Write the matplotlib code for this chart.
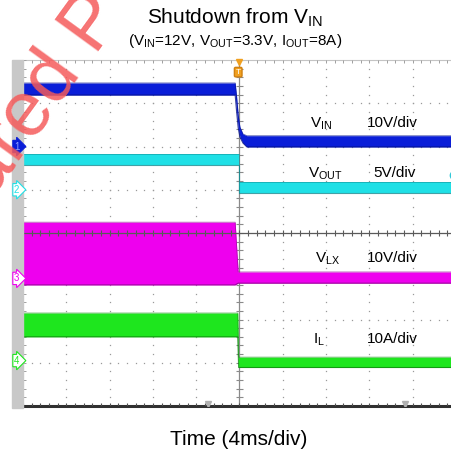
import numpy as np
import matplotlib
matplotlib.use("Agg")
import matplotlib.pyplot as plt
from matplotlib.patches import Rectangle

plt.rcParams["font.family"] = ["Liberation Sans", "DejaVu Sans"]
plt.rcParams["mathtext.fontset"] = "custom"
plt.rcParams["mathtext.rm"] = "Liberation Sans"

W, H = 452, 455
DIV_X, DIV_Y = 43.3, 43.25  # pixels per division

# scope traces, in divisions
# (x: 4ms/div from left edge, y: divisions from bottom, hi/lo = noise band)
VIN_T = [0.0, 4.90, 4.93, 4.97, 5.01, 5.08, 5.17, 9.91]
VIN_HI = [7.47, 7.47, 7.19, 6.73, 6.45, 6.29, 6.25, 6.25]
VIN_LO = [7.19, 7.19, 6.84, 6.43, 6.22, 6.08, 5.99, 5.99]

VOUT_T = [0.0, 4.98, 4.98, 9.91]
VOUT_HI = [5.82, 5.82, 5.18, 5.18]
VOUT_LO = [5.57, 5.57, 4.92, 4.92]

VLX_T = [0.0, 4.90, 4.97, 9.91]
VLX_HI = [4.25, 4.25, 3.10, 3.10]
VLX_LO = [2.80, 2.80, 2.84, 2.84]

IL_T = [0.0, 4.96, 4.98, 9.91]
IL_HI = [2.15, 2.15, 1.13, 1.13]
IL_LO = [1.60, 1.60, 0.89, 0.89]

CH_NAMES = ["1", "2", "3", "4"]
CH_GROUND = [6.0, 5.0, 2.95, 1.05]
CH_COLORS = ["#0a1ed8", "#1fe0e6", "#ee00ee", "#1ee61e"]
CH_EDGES = ["#06128a", "#138a90", "#8a0a8a", "#108a10"]

LABELS = [r"V$_\mathregular{IN}$", r"V$_\mathregular{OUT}$",
          r"V$_\mathregular{LX}$", r"I$_\mathregular{L}$"]
SCALES = ["10V/div", "5V/div", "10V/div", "10A/div"]


def px(x, y):
    # figure fraction from pixel position (y measured from top)
    return x / W, 1 - y / H


fig = plt.figure(figsize=(W / 100, H / 100), dpi=100)
ax = fig.add_axes([23 / W, 49 / H, 429 / W, 346 / H])
ax.set_xlim(0, 429 / DIV_X)
ax.set_ylim(0, 8)
ax.axis("off")

# grey strip on the left of the screen
fig.patches.append(Rectangle((12 / W, 47 / H), 11 / W, 348 / H,
                             transform=fig.transFigure, color="#c8c8c8",
                             zorder=0))

# dotted graticule
xm = np.arange(0, 10.01, 0.2)
ym = np.arange(0, 8.01, 0.2)
for gx in range(1, 10):
    if gx != 5:
        ax.plot(np.full_like(ym, gx), ym, ls="none", marker="s", ms=0.9,
                mew=0, color="#9a9a9a", zorder=1)
for gy in range(1, 8):
    if gy != 4:
        ax.plot(xm, np.full_like(xm, gy), ls="none", marker="s", ms=0.9,
                mew=0, color="#9a9a9a", zorder=1)

# centre lines with ticks
ax.axhline(4, color="#5a5a5a", lw=0.9, zorder=5)
ax.vlines(xm, 4 - 0.06, 4 + 0.06, color="#5a5a5a", lw=0.8, zorder=5)
ax.axvline(5, color="#8a8a8a", lw=0.9, zorder=1)
ax.hlines(ym, 5 - 0.07, 5 + 0.07, color="#8a8a8a", lw=0.8, zorder=1)

# borders
ax.axhline(8, color="#c4c4c4", lw=0.8, zorder=1, clip_on=False)
ax.vlines(xm, 8 - 0.08, 8, color="#a0a0a0", lw=0.7, zorder=1)
ax.hlines(ym, 0, 0.08, color="#a0a0a0", lw=0.7, zorder=1)
ax.axhline(0, color="#303030", lw=2.2, zorder=6, clip_on=False)
ax.vlines(xm, 0, 0.08, color="#505050", lw=0.8, zorder=6)
ax.plot([4.27, 8.82], [0.04, 0.04], ls="none", marker="v", ms=4,
        color="#b0b0b0", zorder=7)

# traces
traces = [(VIN_T, VIN_HI, VIN_LO), (VOUT_T, VOUT_HI, VOUT_LO),
          (VLX_T, VLX_HI, VLX_LO), (IL_T, IL_HI, IL_LO)]
for (t, hi, lo), c, ec in zip(traces, CH_COLORS, CH_EDGES):
    ax.fill_between(t, lo, hi, color=c, lw=0, zorder=3)
    ax.plot(t, hi, color=ec, lw=0.6, alpha=0.6, zorder=3)
    ax.plot(t, lo, color=ec, lw=0.8, alpha=0.8, zorder=3)

# trigger marker
ax.plot([5.0], [7.96], marker="v", ms=4, color="#f0a020", zorder=8,
        clip_on=False)
ax.text(4.97, 7.72, "T", ha="center", va="center", fontsize=6,
        color="white", zorder=8,
        bbox=dict(boxstyle="round,pad=0.15", fc="#f0a020", ec="#d08010"))

# cyan reference dot at right edge
ax.plot([9.95], [5.34], marker="o", ms=6, color="#30c8d8", zorder=8)

# channel ground flags
for name, g, c in zip(CH_NAMES, CH_GROUND, CH_COLORS):
    x, y = ax.transData.transform((0, g))
    fx, fy = fig.transFigure.inverted().transform((x, y))
    filled = name == "1"
    fig.text(14 / W, fy, name, ha="left", va="center", fontsize=7,
             color="#8fa0ff" if filled else c, zorder=9,
             bbox=dict(boxstyle="rarrow,pad=0.12",
                       fc=c if filled else "white", ec=c, lw=0.8))

# trace labels
ybase = [127, 177, 262, 343]
xlab = [310, 308, 315, 313]
xscale = [367, 373, 367, 367]
for lab, sc, yb, xl, xs in zip(LABELS, SCALES, ybase, xlab, xscale):
    fig.text(*px(xl, yb), lab, fontsize=11, ha="left", va="baseline",
             zorder=10)
    fig.text(*px(xs, yb), sc, fontsize=11, ha="left", va="baseline",
             zorder=10)

# titles
fig.text(*px(235, 23), r"Shutdown from V$_\mathregular{IN}$", fontsize=15,
         ha="center", va="baseline")
fig.text(*px(235, 45),
         r"(V$_\mathregular{IN}$=12V, V$_\mathregular{OUT}$=3.3V, "
         r"I$_\mathregular{OUT}$=8A)", fontsize=11, ha="center",
         va="baseline")
fig.text(*px(239, 445), "Time (4ms/div)", fontsize=15, ha="center",
         va="baseline")

# watermark
fig.text(*px(-9, 199), "ared P", fontsize=56, color="#f55a5a", alpha=0.85,
         rotation=54, rotation_mode="anchor", ha="left", va="baseline",
         zorder=20)

fig.savefig("out.png", dpi=100)
